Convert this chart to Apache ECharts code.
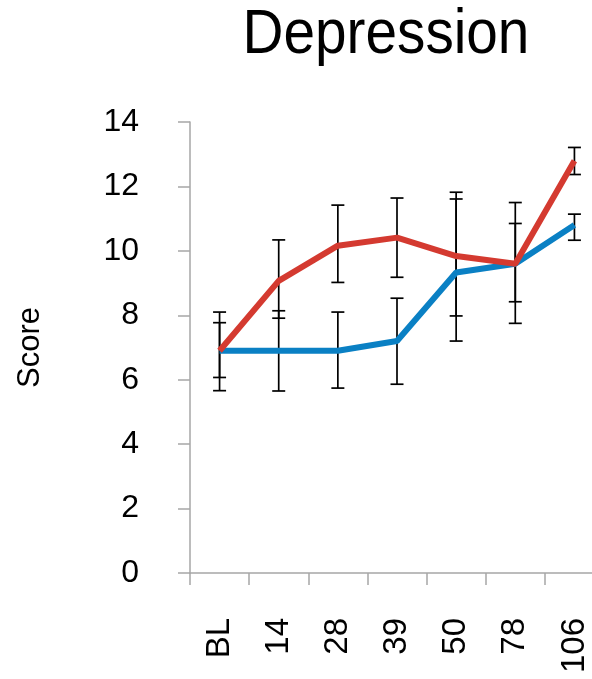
<!DOCTYPE html>
<html>
<head>
<meta charset="utf-8">
<script src="https://cdn.jsdelivr.net/npm/echarts@6/dist/echarts.min.js"></script>
<style>html,body{margin:0;padding:0;background:#fff;}#c{width:592px;height:679px;}</style>
</head>
<body>
<div id="c"></div>
<script>
var categories = ['BL', '14', '28', '39', '50', '78', '106'];
var blueValues = [6.9, 6.9, 6.9, 7.2, 9.33, 9.6, 10.8];
var redValues = [6.9, 9.07, 10.16, 10.41, 9.84, 9.6, 12.8];
var blueLow = [6.07, 5.65, 5.74, 5.86, 7.98, 8.42, 10.33];
var blueHigh = [7.77, 8.14, 8.10, 8.53, 11.61, 10.85, 11.14];
var redLow = [5.66, 7.91, 9.02, 9.18, 7.20, 7.75, 12.37];
var redHigh = [8.10, 10.34, 11.42, 11.64, 11.82, 11.50, 13.21];
var yTicks = [0, 2, 4, 6, 8, 10, 12, 14];

var errData = [];
for (var i = 0; i < categories.length; i++) {
  errData.push([i, blueLow[i], blueHigh[i]]);
  errData.push([i, redLow[i], redHigh[i]]);
}

function renderErr(params, api) {
  var x = api.value(0);
  var lo = api.coord([x, api.value(1)]);
  var hi = api.coord([x, api.value(2)]);
  var hw = 6.5;
  var st = {stroke: '#000', lineWidth: 1.7};
  return {
    type: 'group',
    children: [
      {type: 'line', shape: {x1: lo[0], y1: lo[1], x2: hi[0], y2: hi[1]}, style: st},
      {type: 'line', shape: {x1: lo[0] - hw, y1: lo[1], x2: lo[0] + hw, y2: lo[1]}, style: st},
      {type: 'line', shape: {x1: hi[0] - hw, y1: hi[1], x2: hi[0] + hw, y2: hi[1]}, style: st}
    ]
  };
}

var chart = echarts.init(document.getElementById('c'), null, {renderer: 'canvas'});
chart.setOption({
  animation: false,
  backgroundColor: '#fff',
  graphic: [{
    type: 'text',
    x: 386,
    y: 36,
    scaleX: 0.9,
    style: {
      text: 'Depression',
      fontFamily: 'Liberation Sans',
      fontSize: 63,
      fill: '#000',
      align: 'center',
      verticalAlign: 'middle'
    }
  }],
  grid: {left: 190, top: 122, width: 414, height: 451, containLabel: false, outerBoundsMode: 'none'},
  xAxis: {
    type: 'category',
    data: categories,
    boundaryGap: true,
    axisLine: {lineStyle: {color: '#a6a6a6', width: 1.5}},
    axisTick: {show: true, length: 12, lineStyle: {color: '#a6a6a6', width: 1.5}},
    axisLabel: {rotate: 90, margin: 45, fontSize: 33, color: '#000', fontFamily: 'Liberation Sans'},
    splitLine: {show: false}
  },
  yAxis: {
    type: 'value',
    min: yTicks[0],
    max: yTicks[yTicks.length - 1],
    interval: 2,
    name: 'Score',
    nameLocation: 'middle',
    nameRotate: 90,
    nameGap: 144,
    nameTextStyle: {fontSize: 31, color: '#000', fontFamily: 'Liberation Sans'},
    axisLine: {show: true, lineStyle: {color: '#a6a6a6', width: 1.5}},
    axisTick: {show: true, length: 12, lineStyle: {color: '#a6a6a6', width: 1.5}},
    axisLabel: {margin: 51, fontSize: 32, color: '#000', fontFamily: 'Liberation Sans'},
    splitLine: {show: false}
  },
  series: [
    {
      type: 'custom',
      renderItem: renderErr,
      data: errData,
      z: 1,
      encode: {x: 0, y: [1, 2]}
    },
    {
      type: 'line',
      data: blueValues,
      symbol: 'none',
      lineStyle: {color: '#0a80c4', width: 6},
      z: 2
    },
    {
      type: 'line',
      data: redValues,
      symbol: 'none',
      lineStyle: {color: '#d43a30', width: 6},
      z: 3
    }
  ]
});
</script>
</body>
</html>
